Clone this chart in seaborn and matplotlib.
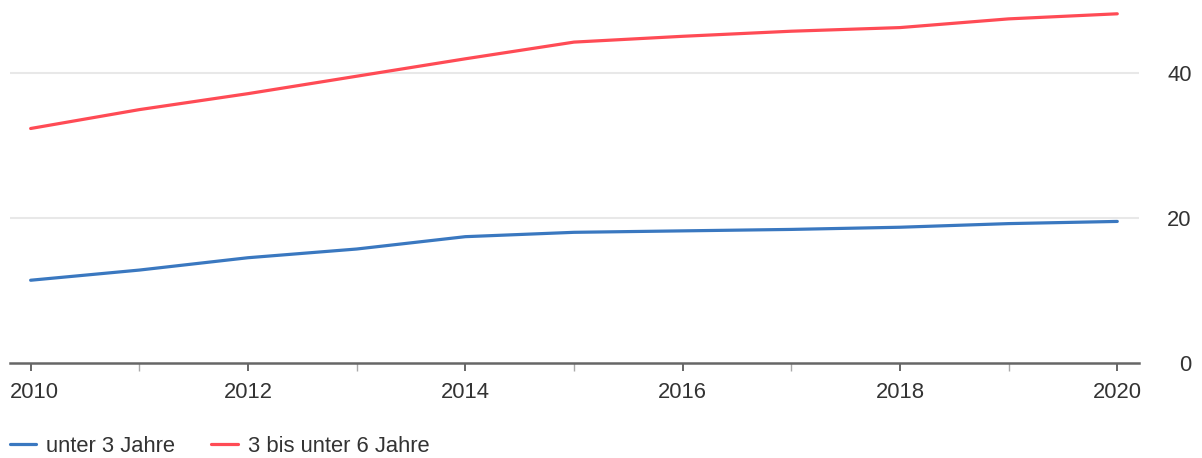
import pandas as pd
import numpy as np
import seaborn as sns
import matplotlib.pyplot as plt
from matplotlib.lines import Line2D
from matplotlib.transforms import ScaledTranslation

# data
years = [2010, 2011, 2012, 2013, 2014, 2015, 2016, 2017, 2018, 2019, 2020]
unter_3 = [11.4, 12.8, 14.5, 15.7, 17.4, 18.0, 18.2, 18.4, 18.7, 19.2, 19.5]
drei_bis_6 = [32.3, 34.9, 37.1, 39.5, 41.9, 44.2, 45.0, 45.7, 46.2, 47.4, 48.1]
series_names = ['unter 3 Jahre', '3 bis unter 6 Jahre']
colors = ['#3a78c0', '#ff4b55']
y_ticks = [0, 20, 40]
x_ticks = [2010, 2012, 2014, 2016, 2018, 2020]

df = pd.DataFrame({
    'Jahr': years * 2,
    'Wert': unter_3 + drei_bis_6,
    'Gruppe': [series_names[0]] * len(years) + [series_names[1]] * len(years),
})

sns.set_theme(style='white')
plt.rcParams['font.family'] = ['Liberation Sans', 'DejaVu Sans']
text_col = '#333333'
fs = 15.8

fig = plt.figure(figsize=(12.02, 4.58), dpi=100)
ax = fig.add_axes([10 / 1202, 1 - 363 / 458, (1139 - 10) / 1202, 363 / 458])

# grid first so lines sit on top
for v in y_ticks[1:]:
    ax.axhline(v, color='#e8e8e8', lw=1.5, zorder=0)

sns.lineplot(data=df, x='Jahr', y='Wert', hue='Gruppe', palette=colors,
             linewidth=2.3, ax=ax, legend=False, zorder=3)

ax.set_xlim(2009.81, 2020.2)
ax.set_ylim(0, 50)
ax.set_xlabel('')
ax.set_ylabel('')

for s in ['top', 'left', 'right']:
    ax.spines[s].set_visible(False)
ax.spines['bottom'].set_color('#666666')
ax.spines['bottom'].set_linewidth(1.8)

ax.set_xticks(x_ticks)
ax.set_xticklabels([str(x) for x in x_ticks])
ax.set_xticks([2011, 2013, 2015, 2017, 2019], minor=True)
ax.tick_params(axis='x', which='major', length=6, width=1.4, color='#666666',
               labelsize=fs, labelcolor=text_col, pad=8, bottom=True)
ax.tick_params(axis='x', which='minor', length=5.5, width=1.0, color='#aaaaaa', bottom=True)

# first label sits a bit to the right, like in the original
first = ax.get_xticklabels()[0]
first.set_transform(first.get_transform() + ScaledTranslation(4 / 100, 0, fig.dpi_scale_trans))

ax.yaxis.tick_right()
ax.set_yticks(y_ticks)
ax.set_yticklabels([str(v) for v in y_ticks])
ax.tick_params(axis='y', length=0, labelsize=fs, labelcolor=text_col, pad=38)
for lab in ax.get_yticklabels():
    lab.set_horizontalalignment('right')

handles = [Line2D([0], [0], color=c, lw=2.3) for c in colors]
fig.legend(handles, series_names, loc='center left',
           bbox_to_anchor=(10 / 1202, 1 - 446 / 458), ncol=2, frameon=False,
           fontsize=fs, labelcolor=text_col, handlelength=1.2,
           handletextpad=0.45, columnspacing=1.65, borderaxespad=0,
           borderpad=0)

plt.savefig('out.png', dpi=100)
